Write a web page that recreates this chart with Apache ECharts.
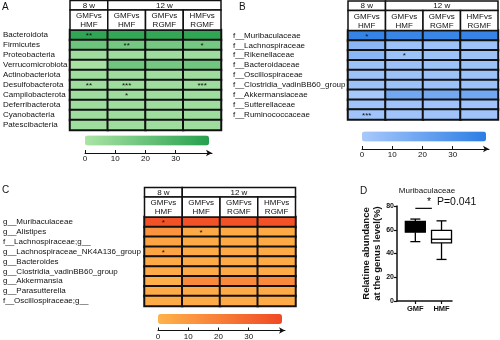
<!DOCTYPE html>
<html><head><meta charset="utf-8">
<script src="https://cdn.jsdelivr.net/npm/echarts@6/dist/echarts.min.js"></script>
<style>html,body{margin:0;padding:0;background:#fff}#c{width:500px;height:340px}</style>
</head><body><div id="c"></div>
<script>
// ---------- data ----------
const colHeaders = ['GMFvs\nHMF', 'GMFvs\nHMF', 'GMFvs\nRGMF', 'HMFvs\nRGMF'];
const weekHeaders = ['8 w', '12 w'];
const weekSpans = [[0, 0], [1, 3]];

const rowsA = ['Bacteroidota', 'Firmicutes', 'Proteobacteria', 'Verrucomicrobiota', 'Actinobacteriota',
  'Desulfobacterota', 'Campilobacterota', 'Deferribacterota', 'Cyanobacteria', 'Patescibacteria'];
const valuesA = [
  [38, 37, 37, 38], [19, 17, 17, 17], [4, 4, 4, 4], [1, 18, 17, 18], [4, 4, 4, 4],
  [4, 4, 4, 4], [4, 4, 4, 4], [4, 4, 4, 4], [4, 4, 4, 4], [4, 4, 4, 4]];
const starsA = [
  ['**', '', '', ''], ['', '**', '', '*'], ['', '', '', ''], ['', '', '', ''], ['', '', '', ''],
  ['**', '***', '', '***'], ['', '*', '', ''], ['', '', '', ''], ['', '', '', ''], ['', '', '', '']];

const rowsB = ['f__Muribaculaceae', 'f__Lachnospiraceae', 'f__Rikenellaceae', 'f__Bacteroidaceae',
  'f__Oscillospiraceae', 'f__Clostridia_vadinBB60_group', 'f__Akkermansiaceae', 'f__Sutterellaceae', 'f__Ruminococcaceae'];
const valuesB = [
  [38, 36, 36, 37], [10, 4, 4, 4], [10, 4, 4, 4], [4, 4, 4, 4], [4, 4, 4, 4],
  [4, 4, 4, 4], [1, 18, 17, 18], [3, 3, 3, 3], [3, 3, 3, 3]];
const starsB = [
  ['*', '', '', ''], ['', '', '', ''], ['', '*', '', ''], ['', '', '', ''], ['', '', '', ''],
  ['', '', '', ''], ['', '', '', ''], ['', '', '', ''], ['***', '', '', '']];

const rowsC = ['g__Muribaculaceae', 'g__Alistipes', 'f__Lachnospiraceae;g__', 'g__Lachnospiraceae_NK4A136_group',
  'g__Bacteroides', 'g__Clostridia_vadinBB60_group', 'g__Akkermansia', 'g__Parasutterella', 'f__Oscillospiraceae;g__'];
const valuesC = [
  [38, 38, 38, 38], [12, 3, 3, 3], [5, 3, 3, 3], [5, 3, 3, 3], [3, 3, 3, 3],
  [3, 3, 3, 3], [1, 16, 16, 16], [3, 3, 3, 3], [3, 3, 3, 3]];
const starsC = [
  ['*', '', '', ''], ['', '*', '', ''], ['', '', '', ''], ['*', '', '', ''], ['', '', '', ''],
  ['', '', '', ''], ['', '', '', ''], ['', '', '', ''], ['', '', '', '']];

const colorbarTicks = [0, 10, 20, 30];

const boxGroups = ['GMF', 'HMF'];
const boxStats = [[50, 58, 61, 67, 69], [35, 49, 52, 59.5, 67.5]]; // min,Q1,median,Q3,max
const sigLevel = 78;
const sigExtent = [0, 0.63];
const sigText = '*  P=0.041';
const boxTitle = 'Muribaculaceae';

// ---------- build ----------
const FONT = 'Liberation Sans, Arial, sans-serif';
const chart = echarts.init(document.getElementById('c'), null, {renderer: 'canvas'});

const panels = [
  {rows: rowsA, vals: valuesA, stars: starsA, left: 69, top: 30, width: 152, height: 100, labelX: 2,
   colors: ['#abe4a5', '#26a04e'], bar: {left: 85, top: 135.5, axisY: 153}},
  {rows: rowsB, vals: valuesB, stars: starsB, left: 348, top: 30.5, width: 150, height: 89, labelX: 233,
   colors: ['#a8c9fc', '#2b7de4'], bar: {left: 362, top: 131.5, axisY: 149}},
  {rows: rowsC, vals: valuesC, stars: starsC, left: 143.5, top: 217, width: 152, height: 89, labelX: 2,
   colors: ['#ffb24a', '#f04a24'], bar: {left: 158, top: 314, axisY: 332}}
];

const grid = [], xAxis = [], yAxis = [], series = [], visualMap = [];

panels.forEach((p, k) => {
  const gi = grid.length;
  grid.push({left: p.left, top: p.top, width: p.width, height: p.height});
  xAxis.push({type: 'category', gridIndex: gi, data: colHeaders.map((_, i) => i), show: false});
  yAxis.push({type: 'category', gridIndex: gi, data: p.rows, inverse: true,
    axisLine: {show: false}, axisTick: {show: false},
    axisLabel: {interval: 0, align: 'left', margin: p.left - p.labelX, fontSize: 8, color: '#111', fontFamily: FONT}});
  const data = [];
  p.vals.forEach((row, r) => row.forEach((v, c) => data.push([c, r, v])));
  const si = series.length;
  series.push({type: 'heatmap', xAxisIndex: gi, yAxisIndex: gi, data: data,
    itemStyle: {borderColor: '#111', borderWidth: 2},
    label: {show: true, fontSize: 8, color: '#111', fontFamily: FONT, offset: [0, 1],
      formatter: (q) => p.stars[q.value[1]][q.value[0]]},
    emphasis: {disabled: true}});
  visualMap.push({type: 'continuous', seriesIndex: si, dimension: 2, min: 0, max: 41,
    orient: 'horizontal', left: p.bar.left, top: p.bar.top, itemWidth: 10, itemHeight: 124,
    padding: 0, calculable: false, text: null, showLabel: false, hoverLink: false,
    inRange: {color: p.colors}});
  // header cells
  const headerCells = [];
  weekHeaders.forEach((t, i) => headerCells.push({text: t, c0: weekSpans[i][0], c1: weekSpans[i][1], level: 1}));
  colHeaders.forEach((t, i) => headerCells.push({text: t, c0: i, c1: i, level: 2}));
  series.push({type: 'custom', xAxisIndex: gi, yAxisIndex: gi, clip: false, silent: true,
    data: headerCells.map((h) => [h.c0, 0]),
    renderItem: function (params, api) {
      const h = headerCells[params.dataIndex];
      const size = api.size([1, 1]);
      const a = api.coord([h.c0, 0]);
      const b = api.coord([h.c1, 0]);
      const x0 = a[0] - size[0] / 2, x1 = b[0] + size[0] / 2;
      const yTop = a[1] - size[1] / 2;
      const y0 = h.level === 1 ? yTop - 29.5 : yTop - 20;
      const hh = h.level === 1 ? 9.5 : 20;
      return {type: 'group', children: [
        {type: 'rect', shape: {x: x0, y: y0, width: x1 - x0, height: hh},
          style: {fill: '#fff', stroke: '#111', lineWidth: 1.5}},
        {type: 'text', style: {text: h.text, x: (x0 + x1) / 2, y: y0 + hh / 2 + 0.5, align: 'center',
          verticalAlign: 'middle', fontSize: 8, lineHeight: 9, fill: '#111', fontFamily: FONT}}
      ]};
    }});
  // colorbar axis
  const gb = grid.length;
  grid.push({left: p.bar.left, top: p.bar.axisY - 2, width: 127, height: 2});
  xAxis.push({type: 'value', gridIndex: gb, min: 0, max: 42, position: 'bottom',
    axisLine: {show: true, lineStyle: {color: '#111', width: 1}, symbol: ['none', 'arrow'], symbolSize: [5, 6]},
    axisTick: {show: true, inside: true, length: 3, lineStyle: {color: '#111'}, customValues: colorbarTicks},
    axisLabel: {fontSize: 8, color: '#111', margin: 2, fontFamily: FONT, customValues: colorbarTicks},
    splitLine: {show: false}});
  yAxis.push({type: 'value', gridIndex: gb, show: false});
});

// Panel D
const gd = grid.length;
grid.push({left: 397, top: 206, width: 55, height: 95});
const groupIdx = boxGroups.map((_, i) => i);
xAxis.push({type: 'value', gridIndex: gd, min: -0.7, max: 1.4,
  axisLine: {show: true, onZero: false, lineStyle: {color: '#111', width: 1.5}},
  axisTick: {show: true, length: 3, customValues: groupIdx, lineStyle: {color: '#111', width: 1.2}},
  axisLabel: {fontSize: 7.5, fontWeight: 'bold', color: '#111', margin: 4, fontFamily: FONT,
    customValues: groupIdx, formatter: (v) => boxGroups[Math.round(v)]},
  splitLine: {show: false}});
yAxis.push({type: 'value', gridIndex: gd, min: 0, max: 80, interval: 20,
  name: 'Relatime abundance\nat the genus level(%)', nameLocation: 'middle', nameGap: 13,
  nameTextStyle: {fontSize: 9.5, fontWeight: 'bold', color: '#111', lineHeight: 10.5, fontFamily: FONT},
  axisLine: {show: true, onZero: false, lineStyle: {color: '#111', width: 1.5}},
  axisTick: {show: true, length: 3, lineStyle: {color: '#111', width: 1.2}},
  axisLabel: {fontSize: 7, fontWeight: 'bold', color: '#111', margin: 3, fontFamily: FONT},
  splitLine: {show: false}});
const boxFills = ['#000', '#fff'];
series.push({type: 'custom', xAxisIndex: gd, yAxisIndex: gd, silent: true, clip: false,
  data: boxStats.map((s, i) => [i].concat(s)),
  renderItem: function (params, api) {
    const i = api.value(0);
    const y = (d) => api.coord([i, api.value(d)])[1];
    const x = api.coord([i, 0])[0];
    const yMin = y(1), yQ1 = y(2), yMed = y(3), yQ3 = y(4), yMax = y(5);
    const bw = 10, cw = 5;
    const st = {stroke: '#000', lineWidth: 1.3};
    return {type: 'group', children: [
      {type: 'line', shape: {x1: x, y1: yQ3, x2: x, y2: yMax}, style: st},
      {type: 'line', shape: {x1: x, y1: yQ1, x2: x, y2: yMin}, style: st},
      {type: 'line', shape: {x1: x - cw, y1: yMax, x2: x + cw, y2: yMax}, style: st},
      {type: 'line', shape: {x1: x - cw, y1: yMin, x2: x + cw, y2: yMin}, style: st},
      {type: 'rect', shape: {x: x - bw, y: yQ3, width: 2 * bw, height: yQ1 - yQ3},
        style: {fill: boxFills[params.dataIndex], stroke: '#000', lineWidth: 1.3}},
      {type: 'line', shape: {x1: x - bw, y1: yMed, x2: x + bw, y2: yMed}, style: st}
    ]};
  }});
series.push({type: 'line', xAxisIndex: gd, yAxisIndex: gd, symbol: 'none',
  lineStyle: {color: '#111', width: 1.3}, data: [[sigExtent[0], sigLevel], [sigExtent[1], sigLevel]],
  silent: true});

const letter = (t, x, y) => ({type: 'text', left: x, top: y,
  style: {text: t, fontSize: 10, fill: '#111', fontFamily: FONT}});

chart.setOption({
  animation: false,
  grid, xAxis, yAxis, series, visualMap,
  title: {text: boxTitle, left: 427, top: 187, padding: 0, textAlign: 'center',
    textStyle: {fontSize: 8, fontWeight: 'normal', color: '#111', fontFamily: FONT}},
  graphic: [
    letter('A', 2, 2), letter('B', 239, 2), letter('C', 2, 185), letter('D', 360, 186),
    {type: 'text', left: 427, top: 197, style: {text: sigText, fontSize: 10.5, fill: '#111', fontFamily: FONT}}
  ]
});
</script></body></html>
